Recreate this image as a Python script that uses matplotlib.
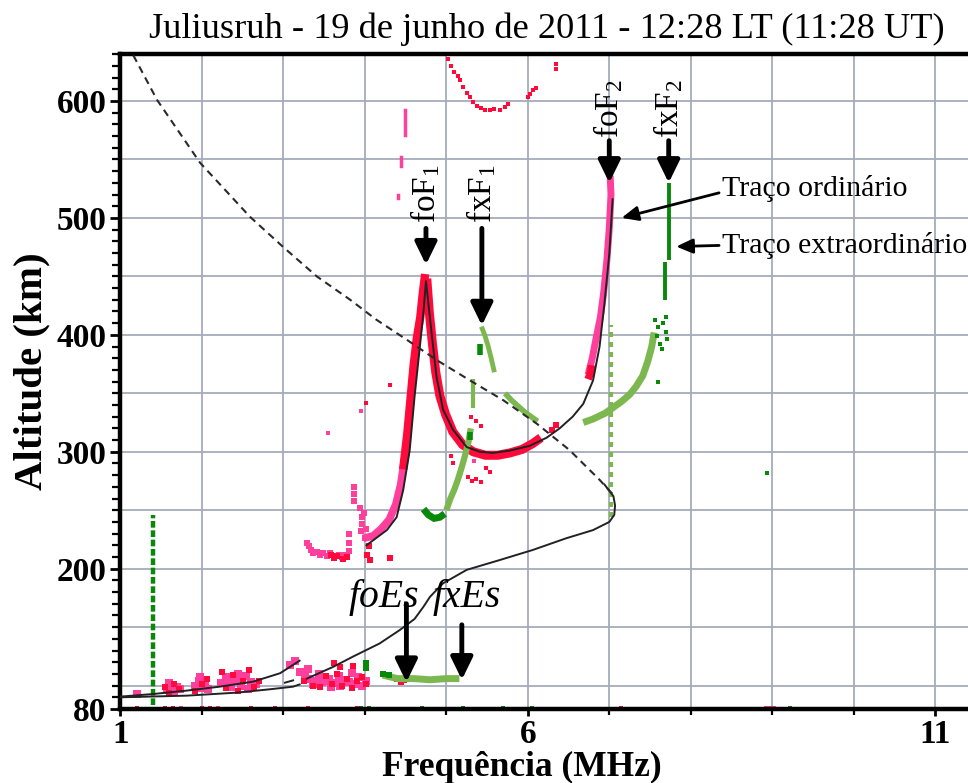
import matplotlib
matplotlib.use("Agg")
import matplotlib.pyplot as plt
from matplotlib.ticker import FixedLocator

plt.rcParams["font.family"] = ["Liberation Serif", "DejaVu Serif"]
plt.rcParams["mathtext.fontset"] = "custom"
plt.rcParams["mathtext.rm"] = "Liberation Serif"
plt.rcParams["mathtext.it"] = "Liberation Serif:italic"
plt.rcParams["mathtext.bf"] = "Liberation Serif:bold"

# ---------------- data (frequency in MHz, virtual height in km) ----------------
title = "Juliusruh - 19 de junho de 2011 - 12:28 LT (11:28 UT)"
x_ticks = [1, 6, 11]
y_ticks = [80, 200, 300, 400, 500, 600]
grid_x = [2, 3, 4, 5, 6, 7, 8, 9, 10, 11]
grid_y = [100, 150, 200, 250, 300, 350, 400, 450, 500, 550, 600]

# ordinary trace, F1 rising branch (pink lower part, red upper part)
o1_pink_f = [3.98, 4.10, 4.20, 4.30, 4.38, 4.44, 4.49]
o1_pink_h = [226, 228, 234, 242, 255, 272, 295]
o1_red_f = [4.47, 4.52, 4.56, 4.60, 4.64, 4.68, 4.71, 4.74]
o1_red_h = [285, 315, 345, 375, 398, 415, 435, 452]
# ordinary trace, F1 cusp down to the F2 minimum
o2_f = [4.76, 4.79, 4.83, 4.87, 4.92, 4.99, 5.08, 5.20, 5.33, 5.48, 5.63, 5.78, 5.93, 6.06, 6.16]
o2_h = [448, 420, 392, 368, 348, 332, 317, 306, 300, 297, 297, 299, 302, 307, 312]
o2_red_extra_f = [6.30, 6.35]
o2_red_extra_h = [319, 323]
# ordinary trace, F2 rising branch
o3_f = [6.74, 6.79, 6.84, 6.89, 6.93, 6.97, 7.00, 7.02, 7.01]
o3_h = [366, 380, 398, 415, 436, 464, 492, 520, 536]
o3_red_f = [6.74, 6.77, 6.78]
o3_red_h = [362, 368, 374]

# second-hop F1 echo near the top
hop_f = [5.02, 5.06, 5.10, 5.14, 5.17, 5.21, 5.25, 5.29, 5.33, 5.38, 5.43, 5.48, 5.53, 5.58, 5.66, 5.72, 5.76,
         6.00, 6.03, 6.06, 6.10, 6.35, 6.35]
hop_h = [636, 630, 625, 621, 618, 612, 607, 603, 599, 596, 594, 592, 592, 593, 592, 595, 597,
         603, 606, 609, 611, 627, 632]

# pink dashes above foF1
pink_bar_f = [4.49, 4.44, 4.41]
pink_bar_lo = [571, 544, 517]
pink_bar_hi = [592, 552, 520]

# low F echoes (210-275 km)
lowF_pink_f = [3.29, 3.31, 3.34, 3.37, 3.41, 3.45, 3.49, 3.53, 3.57, 3.63, 3.68, 3.72, 3.76, 3.80, 3.80, 3.80,
               3.87, 3.87, 3.87, 3.95, 3.96, 3.97, 3.99, 4.00, 3.94, 4.02]
lowF_pink_h = [222, 219, 216, 213, 214, 212, 213, 211, 213, 211, 212, 210, 212, 215, 222, 230,
               258, 264, 270, 232, 238, 244, 248, 226, 252, 234]
lowF_red_f = [3.58, 3.62, 3.66, 3.73, 3.78, 4.03, 4.06, 4.05, 4.31]
lowF_red_h = [212, 209, 211, 208, 210, 212, 207, 219, 209]

# isolated echoes around the F layer
stray_red_f = [4.31, 4.01, 5.06, 5.08, 5.27, 5.31, 5.37, 5.43, 5.30, 5.36, 5.43, 5.49, 5.53]
stray_red_h = [357, 342, 296, 290, 278, 275, 277, 274, 330, 326, 322, 286, 283]
stray_pink_f = [3.95, 3.55, 5.34]
stray_pink_h = [335, 316, 292]

# E / Es region echoes
e_pink_f = [1.20, 1.57, 1.62, 1.66, 1.70, 1.73, 1.92, 1.96, 2.00, 2.04, 2.08, 2.24, 2.30, 2.36, 2.42, 2.48, 2.54,
            2.60, 2.66, 3.08, 3.14, 3.20, 3.26, 3.32, 3.40, 3.48, 3.56, 3.64, 3.72, 3.80, 3.88, 3.96, 4.02,
            3.30, 3.44, 3.58, 3.70, 3.84, 1.60, 1.98, 2.33, 2.45, 2.57, 3.36, 3.52, 3.68, 3.92]
e_pink_h = [93, 96, 98, 95, 99, 97, 100, 104, 98, 103, 97, 102, 107, 99, 104, 100, 108,
            103, 101, 118, 121, 112, 108, 106, 104, 103, 106, 102, 105, 103, 101, 100, 104,
            114, 110, 99, 100, 111, 102, 107, 103, 110, 97, 101, 104, 108, 107]
e_red_f = [1.55, 1.60, 1.66, 1.72, 1.92, 2.00, 2.06, 2.25, 2.30, 2.38, 2.44, 2.50, 2.58, 2.64, 2.70,
           3.25, 3.36, 3.45, 3.52, 3.60, 3.66, 3.72, 3.78, 3.84, 3.90, 3.96, 4.02, 3.62, 3.86, 3.70,
           4.40, 4.44, 4.48]
e_red_h = [99, 94, 101, 97, 95, 101, 106, 112, 98, 109, 95, 104, 113, 99, 104,
           104, 100, 99, 108, 101, 110, 100, 106, 98, 104, 107, 101, 119, 117, 116,
           106, 103, 105]

# bottom-row echoes
bot_red_f = [1.20, 1.55, 1.65, 2.00, 2.10, 2.60, 2.90, 3.30, 3.90, 7.14]
bot_pink_f = [8.92, 8.97, 9.02, 1.75, 2.20]
bot_green_f = [3.95, 4.05, 4.70, 5.20, 5.70, 6.05, 9.22]

# extraordinary trace, F2 (dark green upper, light green lower)
x2_dark_f = [7.73, 7.73]
x2_dark_h = [464, 530]
x2_dark2_f = [7.68, 7.68]
x2_dark2_h = [430, 462]
x2_scatter_f = [7.56, 7.60, 7.66, 7.58, 7.70, 7.62, 7.71, 7.64, 7.60, 7.69]
x2_scatter_h = [413, 407, 410, 399, 402, 392, 396, 388, 360, 415]
x2_light_f = [6.68, 6.80, 6.95, 7.05, 7.15, 7.25, 7.33, 7.41, 7.47, 7.52, 7.55]
x2_light_h = [325, 328, 333, 338, 343, 349, 356, 365, 377, 390, 402]
x2_column_f = 7.02
x2_column_h = [244, 408]

# extraordinary trace, F1
x1_dark_f = [4.72, 4.78, 4.85, 4.92, 4.98]
x1_dark_h = [251, 246, 243, 244, 247]
x1_light_f = [5.00, 5.05, 5.10, 5.15, 5.19, 5.23, 5.27, 5.30]
x1_light_h = [250, 260, 268, 278, 287, 297, 308, 320]
x1_top_f = [5.43, 5.47, 5.51, 5.55, 5.59]
x1_top_h = [407, 400, 391, 380, 368]
x1_block_f = [5.41, 5.41]
x1_block_h = [383, 392]
x1_col_f = [5.33, 5.33]
x1_col_h = [337, 362]
x1_tail_f = [5.72, 5.80, 5.88, 5.96, 6.04, 6.12]
x1_tail_h = [350, 344, 339, 334, 330, 326]
x1_dark_bits_f = [5.29, 5.29]
x1_dark_bits_h = [310, 317]

# extraordinary Es
xes_light_f = [4.22, 4.40, 4.60, 4.80, 5.00, 5.16]
xes_light_h = [109, 106, 106, 105, 106, 106]
xes_dark_f = [4.22, 4.30, 4.02, 4.02]
xes_dark_h = [110, 109, 115, 119]
lone_green_f = [8.94]
lone_green_h = [282]

# low-frequency interference column
col_f = 1.40
col_h = [83, 246]

# fitted curves (solid black)
fitF_f = [4.02, 4.27, 4.39, 4.47, 4.55, 4.61, 4.68, 4.72, 4.75, 4.82, 4.88, 4.96, 5.08, 5.25, 5.41,
          5.57, 5.78, 6.02, 6.23, 6.39, 6.55, 6.68, 6.80, 6.88, 6.94, 7.00, 7.04]
fitF_h = [220, 233, 244, 267, 301, 347, 393, 420, 446, 401, 364, 336, 319, 304, 300,
          299, 301, 305, 312, 320, 330, 341, 361, 390, 427, 470, 516]
prof_f = [6.94, 7.05, 7.07, 7.06, 7.00, 6.80, 6.47, 6.06, 5.66, 5.25, 4.96, 4.80, 4.72, 4.61, 4.43,
          4.18, 3.86, 3.61, 3.29]
prof_h = [272, 262, 254, 246, 240, 233, 226, 216, 207.5, 199, 187.5, 176, 167.5, 157, 147.6,
          136, 125, 116, 106]
stub_f = [3.02, 3.12]
stub_h = [102.5, 104.5]
eUp_f = [1.00, 1.40, 1.81, 2.22, 2.63, 2.96, 3.20]
eUp_h = [90.6, 92.8, 95.7, 99.1, 103.4, 110.6, 121.3]
eLo_f = [1.00, 1.81, 2.43, 2.84, 3.12, 3.20]
eLo_h = [90.0, 91.4, 94.0, 96.9, 99.1, 101.0]

# dashed reference curve
dash_f = [1.16, 1.45, 1.98, 2.59, 3.00, 3.41, 3.82, 4.14, 4.51, 4.88, 5.29, 5.70, 6.11, 6.51, 6.88, 7.03]
dash_h = [639, 601, 547, 501, 475, 450, 430, 413, 396, 378.5, 361, 344, 324, 301.5, 276, 264.5]

# labelled frequencies: (text, frequency, text bottom, arrow tail, arrow tip)
crit_labels = ["foF$_1$", "fxF$_1$", "foF$_2$", "fxF$_2$"]
crit_freq = [4.75, 5.436, 6.999, 7.728]
crit_text_h = [496, 496, 568, 568]
crit_tail_h = [491, 491, 566, 566]
crit_tip_h = [460, 408, 530, 530]
es_labels = ["foEs", "fxEs"]
es_text_f = [4.23, 5.25]
es_freq = [4.51, 5.19]
es_tail_h = [170, 152]
es_tip_h = [103, 105]

# ---------------- styling ----------------
RED = "#ff0a3a"
PINK = "#ff3f9c"
DKGREEN = "#0a880a"
LTGREEN = "#7cb84f"
GRID = "#a5abbb"

fig = plt.figure(figsize=(9.68, 7.83), dpi=100)
ax = fig.add_axes([120.3 / 968, 1 - 709 / 783, 1 - 120.3 / 968, (709 - 53.6) / 783])
ax.set_xlim(1, 11.4)
ax.set_ylim(80, 640.5)

for gx in grid_x:
    ax.axvline(gx, color=GRID, lw=1.3, zorder=0)
for gy in grid_y:
    ax.axhline(gy, color=GRID, lw=1.3, zorder=0)

def trace(fs, hs, color, lw=4.5, z=2):
    ax.plot(fs, hs, color=color, lw=lw, solid_capstyle="butt", solid_joinstyle="miter", zorder=z)

def dots(fs, hs, color, s=12, z=2):
    ax.scatter(fs, hs, s=s, marker="s", color=color, linewidths=0, zorder=z)

# ordinary echoes
trace(o1_pink_f, o1_pink_h, PINK, lw=5.5)
trace(o1_red_f, o1_red_h, RED, lw=6)
trace(o2_f, o2_h, RED, lw=6.5)
dots(o2_red_extra_f, o2_red_extra_h, RED, s=24)
trace(o3_f, o3_h, PINK, lw=5)
trace(o3_red_f, o3_red_h, RED, lw=5.5)
dots(hop_f, hop_h, RED, s=9)
for f, lo, hi in zip(pink_bar_f, pink_bar_lo, pink_bar_hi):
    ax.plot([f, f], [lo, hi], color=PINK, lw=2.5, zorder=2)
dots(lowF_pink_f, lowF_pink_h, PINK, s=16)
dots(lowF_red_f, lowF_red_h, RED, s=14)
dots(stray_red_f, stray_red_h, RED, s=7)
dots(stray_pink_f, stray_pink_h, PINK, s=6)
dots(e_pink_f, e_pink_h, PINK, s=30)
dots(e_red_f, e_red_h, RED, s=18)
dots(bot_red_f, [81] * len(bot_red_f), RED, s=10)
dots(bot_pink_f, [81] * len(bot_pink_f), PINK, s=10)
dots(bot_green_f, [81] * len(bot_green_f), DKGREEN, s=10)

# extraordinary echoes
trace(x2_light_f, x2_light_h, LTGREEN, lw=5)
trace(x2_dark_f, x2_dark_h, DKGREEN, lw=2.8)
trace(x2_dark2_f, x2_dark2_h, DKGREEN, lw=2.8)
dots(x2_scatter_f, x2_scatter_h, DKGREEN, s=9)
ax.plot([x2_column_f, x2_column_f], x2_column_h, color=LTGREEN, lw=3, ls=(0, (1.2, 1.2)), zorder=2)
trace(x1_dark_f, x1_dark_h, DKGREEN, lw=5)
trace(x1_light_f, x1_light_h, LTGREEN, lw=4.5)
trace(x1_top_f, x1_top_h, LTGREEN, lw=3.5)
trace(x1_block_f, x1_block_h, DKGREEN, lw=4)
trace(x1_col_f, x1_col_h, LTGREEN, lw=3)
trace(x1_tail_f, x1_tail_h, LTGREEN, lw=4)
trace(x1_dark_bits_f, x1_dark_bits_h, DKGREEN, lw=4)
trace(xes_light_f, xes_light_h, LTGREEN, lw=5)
dots(xes_dark_f, xes_dark_h, DKGREEN, s=18)
dots(lone_green_f, lone_green_h, DKGREEN, s=10)
ax.plot([col_f, col_f], col_h, color=DKGREEN, lw=3.2, ls=(0, (1.5, 0.6)), zorder=2)

# fitted curves
for fs, hs in [(fitF_f, fitF_h), (prof_f, prof_h), (stub_f, stub_h), (eUp_f, eUp_h), (eLo_f, eLo_h)]:
    ax.plot(fs, hs, color="#222222", lw=1.4, zorder=3)
ax.plot(dash_f, dash_h, color="#2a2a2a", lw=1.5, ls=(0, (3.5, 2.5)), zorder=3)

# critical-frequency labels
arrow_big = dict(arrowstyle="-|>,head_length=0.45,head_width=0.22", lw=3.5, color="black",
                 mutation_scale=30, shrinkA=0, shrinkB=0)
for lab, f, tb, t0, t1 in zip(crit_labels, crit_freq, crit_text_h, crit_tail_h, crit_tip_h):
    ax.text(f - 0.01, tb, lab, rotation=90, ha="center", va="bottom", fontsize=24, zorder=5)
    ax.annotate("", xy=(f, t1), xytext=(f, t0), arrowprops=arrow_big, zorder=5)
for lab, tf, f, t0, t1 in zip(es_labels, es_text_f, es_freq, es_tail_h, es_tip_h):
    ax.text(tf, 175, lab, ha="center", va="center", fontsize=28.5, style="italic", zorder=5)
    ax.annotate("", xy=(f, t1), xytext=(f, t0), arrowprops=arrow_big, zorder=5)

arrow_small = dict(arrowstyle="-|>,head_length=0.5,head_width=0.22", lw=2, color="black",
                   mutation_scale=20, shrinkA=0, shrinkB=0)
ax.annotate("Traço ordinário", xy=(7.15, 500), xytext=(8.38, 525.5), ha="left", va="center",
            fontsize=21.5, arrowprops=dict(arrow_small, relpos=(0, 0.35)), zorder=5)
ax.annotate("Traço extraordinário", xy=(7.82, 475.5), xytext=(8.38, 476.5), ha="left", va="center",
            fontsize=21.5, arrowprops=dict(arrow_small, relpos=(0, 0.5)), zorder=5, annotation_clip=False)

# axes frame and ticks
for side in ["left", "bottom", "top"]:
    ax.spines[side].set_linewidth(3.2)
ax.spines["right"].set_visible(False)
ax.xaxis.set_major_locator(FixedLocator(x_ticks))
ax.xaxis.set_minor_locator(FixedLocator(grid_x))
ax.yaxis.set_major_locator(FixedLocator(y_ticks))
ax.yaxis.set_minor_locator(FixedLocator(list(range(80, 641, 10))))
ax.tick_params(axis="y", which="major", length=7, width=2, pad=3, labelsize=24)
ax.tick_params(axis="y", which="minor", length=6, width=1.6)
ax.tick_params(axis="x", which="major", length=5, width=2, pad=2, labelsize=24)
ax.tick_params(axis="x", which="minor", length=4, width=1.6)
for lbl in ax.get_xticklabels() + ax.get_yticklabels():
    lbl.set_fontweight("bold")

fig.text(547 / 968, 1 - 29 / 783, title, ha="center", va="center", fontsize=26.2)
fig.text(522 / 968, 1 - 767 / 783, "Frequência (MHz)", ha="center", va="center",
         fontsize=25.5, fontweight="bold")
fig.text(32 / 968, 1 - 371 / 783, "Altitude (km)", ha="center", va="center", rotation=90,
         fontsize=29.5, fontweight="bold")

fig.savefig("out.png", dpi=100)
